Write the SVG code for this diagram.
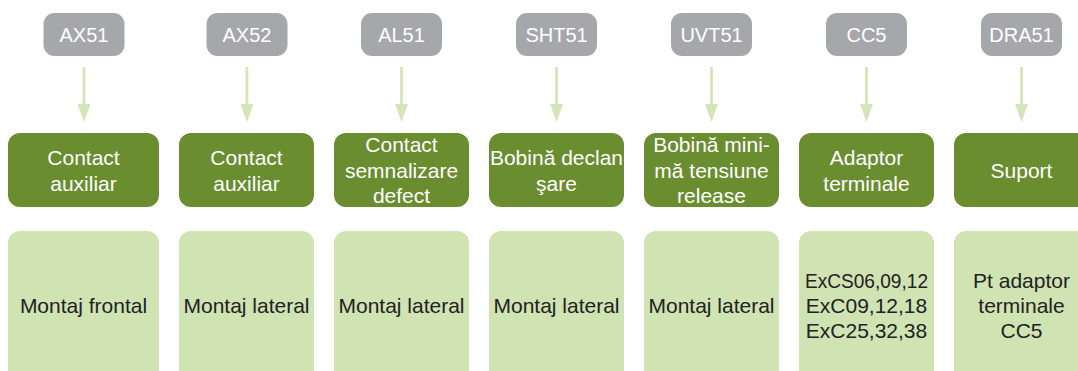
<svg xmlns="http://www.w3.org/2000/svg" width="1078" height="371" viewBox="0 0 1078 371">
<style>
.g{fill:#a6a7ab}
.gt{fill:#ffffff;font-family:"Liberation Sans",Arial,sans-serif;font-size:20px;text-anchor:middle}
.d{fill:#698d2f}
.dt{fill:#ffffff;font-family:"Liberation Sans",Arial,sans-serif;font-size:21px;text-anchor:middle}
.l{fill:#d0e3b2}
.lt{fill:#222222;font-family:"Liberation Sans",Arial,sans-serif;font-size:21px;text-anchor:middle}
.c{stroke:#d3e6b8;stroke-width:2.7;fill:none}
</style>
<defs>
<marker id="ah" markerUnits="userSpaceOnUse" markerWidth="18" markerHeight="13" refX="0" refY="6.5" orient="auto" viewBox="0 0 18 13">
<path d="M0,0 L18,6.5 L0,13 z" fill="#d3e6b8"/>
</marker>
</defs>
<g id="connectors">
<line class="c" x1="84" y1="67" x2="84" y2="104" marker-end="url(#ah)"/>
<line class="c" x1="247" y1="67" x2="247" y2="104" marker-end="url(#ah)"/>
<line class="c" x1="401.5" y1="67" x2="401.5" y2="104" marker-end="url(#ah)"/>
<line class="c" x1="556.5" y1="67" x2="556.5" y2="104" marker-end="url(#ah)"/>
<line class="c" x1="711.5" y1="67" x2="711.5" y2="104" marker-end="url(#ah)"/>
<line class="c" x1="866.5" y1="67" x2="866.5" y2="104" marker-end="url(#ah)"/>
<line class="c" x1="1021.5" y1="67" x2="1021.5" y2="104" marker-end="url(#ah)"/>
</g>
<g id="top1"><rect class="g" x="43.5" y="13" width="81" height="43" rx="11"/><text class="gt" x="84" y="42">AX51</text></g>
<g id="top2"><rect class="g" x="206.5" y="13" width="81" height="43" rx="11"/><text class="gt" x="247" y="42">AX52</text></g>
<g id="top3"><rect class="g" x="361" y="13" width="81" height="43" rx="11"/><text class="gt" x="401.5" y="42">AL51</text></g>
<g id="top4"><rect class="g" x="516" y="13" width="81" height="43" rx="11"/><text class="gt" x="556.5" y="42">SHT51</text></g>
<g id="top5"><rect class="g" x="671" y="13" width="81" height="43" rx="11"/><text class="gt" x="711.5" y="42">UVT51</text></g>
<g id="top6"><rect class="g" x="826" y="13" width="81" height="43" rx="11"/><text class="gt" x="866.5" y="42">CC5</text></g>
<g id="top7"><rect class="g" x="981" y="13" width="81" height="43" rx="11"/><text class="gt" x="1021.5" y="42">DRA51</text></g>

<g id="mid1"><rect class="d" x="8" y="133" width="151" height="74" rx="12"/><text class="dt" x="83.5" y="165">Contact</text><text class="dt" x="83.5" y="191">auxiliar</text></g>
<g id="mid2"><rect class="d" x="179" y="133" width="135" height="74" rx="12"/><text class="dt" x="246.5" y="165">Contact</text><text class="dt" x="246.5" y="191">auxiliar</text></g>
<g id="mid3"><rect class="d" x="334" y="133" width="135" height="74" rx="12"/><text class="dt" x="401.5" y="152">Contact</text><text class="dt" x="401.5" y="177.5">semnalizare</text><text class="dt" x="401.5" y="203">defect</text></g>
<g id="mid4"><rect class="d" x="489" y="133" width="135" height="74" rx="12"/><text class="dt" x="556.5" y="165">Bobină declan</text><text class="dt" x="556.5" y="191">şare</text></g>
<g id="mid5"><rect class="d" x="644" y="133" width="135" height="74" rx="12"/><text class="dt" x="711.5" y="152">Bobină mini-</text><text class="dt" x="711.5" y="177.5">mă tensiune</text><text class="dt" x="711.5" y="203">release</text></g>
<g id="mid6"><rect class="d" x="799" y="133" width="135" height="74" rx="12"/><text class="dt" x="866.5" y="165">Adaptor</text><text class="dt" x="866.5" y="191">terminale</text></g>
<g id="mid7"><rect class="d" x="954" y="133" width="135" height="74" rx="12"/><text class="dt" x="1021.5" y="178">Suport</text></g>

<g id="bot1"><rect class="l" x="8" y="231" width="151" height="160" rx="12"/><text class="lt" x="83.5" y="313">Montaj frontal</text></g>
<g id="bot2"><rect class="l" x="179" y="231" width="135" height="160" rx="12"/><text class="lt" x="246.5" y="313">Montaj lateral</text></g>
<g id="bot3"><rect class="l" x="334" y="231" width="135" height="160" rx="12"/><text class="lt" x="401.5" y="313">Montaj lateral</text></g>
<g id="bot4"><rect class="l" x="489" y="231" width="135" height="160" rx="12"/><text class="lt" x="556.5" y="313">Montaj lateral</text></g>
<g id="bot5"><rect class="l" x="644" y="231" width="135" height="160" rx="12"/><text class="lt" x="711.5" y="313">Montaj lateral</text></g>
<g id="bot6"><rect class="l" x="799" y="231" width="135" height="160" rx="12"/><text class="lt" x="866.5" y="288" textLength="123" lengthAdjust="spacingAndGlyphs">ExCS06,09,12</text><text class="lt" x="866.5" y="313">ExC09,12,18</text><text class="lt" x="866.5" y="338">ExC25,32,38</text></g>
<g id="bot7"><rect class="l" x="954" y="231" width="135" height="160" rx="12"/><text class="lt" x="1021.5" y="288">Pt adaptor</text><text class="lt" x="1021.5" y="313">terminale</text><text class="lt" x="1021.5" y="338">CC5</text></g>
</svg>
